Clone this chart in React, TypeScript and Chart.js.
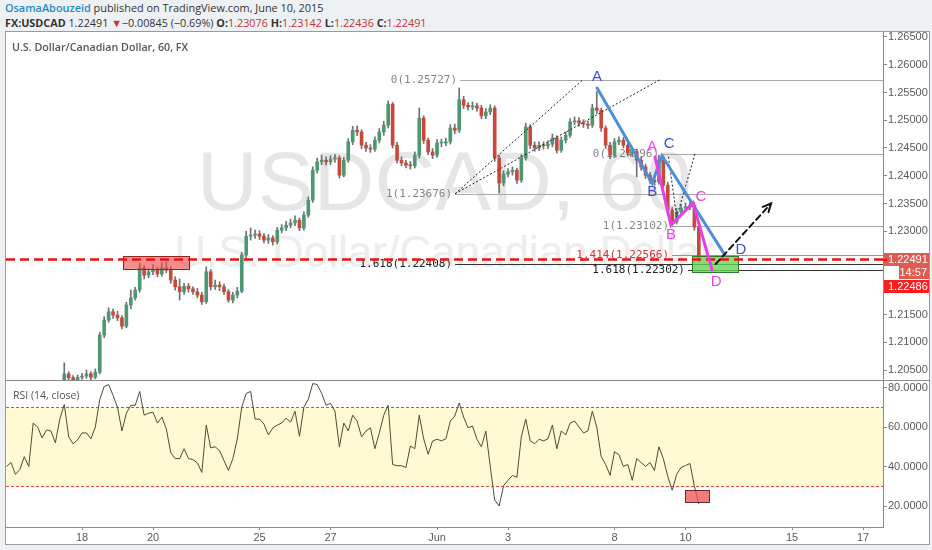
import React, { useEffect, useRef } from "react";
import { Chart, registerables } from "chart.js";

Chart.register(...registerables);

// ---------- time axis: trading days relative to Mon 1 Jun 2015 ----------
const candleStart = -12.125; // first 3-hour candle
const candleStep = 0.125; // 3 hours
const viewStart = -12.141;
const viewEnd = 12.563;
const dayTicks = [-10, -8, -5, -3, 0, 2, 5, 7, 10, 12];
const dayLabels = ["18", "20", "25", "27", "Jun", "3", "8", "10", "15", "17"];

// ---------- USDCAD candles (3h), open = previous close ----------
const firstOpen = 1.198;
const closes = [
  1.1985, 1.199, 1.1972, 1.1968, 1.1985, 1.1978, 1.2, 1.2012, 1.2004, 1.201,
  1.2015, 1.2008, 1.2022, 1.2043, 1.2036, 1.2032, 1.2037, 1.2039, 1.2043, 1.2037,
  1.2046, 1.2113, 1.214, 1.2155, 1.2149, 1.2144, 1.2129, 1.2167, 1.218, 1.2194,
  1.2234, 1.2221, 1.2227, 1.223, 1.2223, 1.2234, 1.223, 1.2212, 1.22, 1.2191,
  1.2201, 1.2196, 1.2191, 1.2185, 1.2173, 1.2227, 1.22, 1.2203, 1.22, 1.2191,
  1.2176, 1.2185, 1.2192, 1.2257, 1.2291, 1.2293, 1.2295, 1.2291, 1.2284, 1.2288,
  1.2281, 1.2302, 1.2306, 1.2311, 1.2315, 1.232, 1.2306, 1.2329, 1.2356, 1.241,
  1.2425, 1.2428, 1.2425, 1.243, 1.2432, 1.2401, 1.2428, 1.2461, 1.2482, 1.2479,
  1.2455, 1.245, 1.2448, 1.2464, 1.2479, 1.2491, 1.2529, 1.2455, 1.2428, 1.2423,
  1.2419, 1.2418, 1.2437, 1.2504, 1.2464, 1.2443, 1.2437, 1.2459, 1.2459, 1.2461,
  1.2486, 1.2482, 1.2537, 1.2527, 1.2524, 1.2526, 1.2522, 1.2508, 1.2515, 1.2522,
  1.2432, 1.2387, 1.2403, 1.2407, 1.241, 1.2392, 1.2432, 1.2488, 1.2455, 1.245,
  1.2455, 1.2454, 1.2457, 1.2468, 1.2446, 1.2464, 1.2473, 1.2497, 1.2499, 1.2495,
  1.2493, 1.2491, 1.2522, 1.2518, 1.2486, 1.2455, 1.2437, 1.2461, 1.2464, 1.2455,
  1.2441, 1.2443, 1.2428, 1.2416, 1.2401, 1.2392, 1.2389, 1.2428, 1.2383, 1.2338,
  1.2317, 1.2335, 1.2342, 1.2344, 1.2347, 1.23076, 1.22491,
];
const highs = [
  1.1992, 1.1996, 1.1994, 1.1978, 1.199, 1.199, 1.2005, 1.2018, 1.2016, 1.2015,
  1.202, 1.2019, 1.2028, 1.2063, 1.2047, 1.204, 1.2041, 1.2044, 1.205, 1.2047,
  1.2052, 1.2118, 1.2146, 1.2162, 1.216, 1.2156, 1.2148, 1.2172, 1.2194, 1.2199,
  1.2243, 1.2238, 1.2233, 1.224, 1.2235, 1.2244, 1.2245, 1.2236, 1.2218, 1.2214,
  1.2206, 1.2206, 1.22, 1.2197, 1.219, 1.2236, 1.2231, 1.2212, 1.2209, 1.2205,
  1.2195, 1.219, 1.2199, 1.2262, 1.23, 1.2306, 1.2302, 1.2301, 1.2296, 1.2294,
  1.2292, 1.2307, 1.2312, 1.2318, 1.2322, 1.2328, 1.2324, 1.2335, 1.2362, 1.2416,
  1.2432, 1.2437, 1.2434, 1.2436, 1.2438, 1.2436, 1.2433, 1.2467, 1.2489, 1.249,
  1.2483, 1.246, 1.2456, 1.247, 1.2485, 1.2498, 1.2535, 1.2532, 1.246, 1.2434,
  1.2428, 1.2426, 1.2443, 1.2522, 1.2508, 1.2468, 1.2449, 1.2465, 1.2466, 1.2468,
  1.2492, 1.2493, 1.2558, 1.2543, 1.2532, 1.2533, 1.2531, 1.2527, 1.2521, 1.2528,
  1.2526, 1.2437, 1.2409, 1.2413, 1.2416, 1.2414, 1.2438, 1.2495, 1.2492, 1.2461,
  1.2461, 1.2461, 1.2463, 1.2475, 1.2472, 1.247, 1.2479, 1.2503, 1.2506, 1.2505,
  1.2501, 1.2499, 1.2529, 1.2552, 1.2522, 1.249, 1.246, 1.2467, 1.247, 1.2469,
  1.246, 1.245, 1.2448, 1.2433, 1.2421, 1.2406, 1.2398, 1.2437, 1.2434, 1.2388,
  1.2343, 1.2341, 1.2348, 1.2351, 1.2358, 1.2352, 1.23142,
];
const lows = [
  1.1974, 1.198, 1.1966, 1.196, 1.1964, 1.1972, 1.1975, 1.1996, 1.1998, 1.2,
  1.2006, 1.2002, 1.2005, 1.2018, 1.203, 1.2026, 1.2028, 1.2033, 1.2035, 1.2032,
  1.2034, 1.2043, 1.2108, 1.2136, 1.2143, 1.2139, 1.2124, 1.2126, 1.216, 1.2176,
  1.219, 1.2214, 1.2216, 1.2222, 1.2218, 1.2219, 1.2225, 1.2206, 1.2194, 1.2176,
  1.2186, 1.219, 1.2186, 1.218, 1.2168, 1.217, 1.2194, 1.2195, 1.2193, 1.2186,
  1.2172, 1.2171, 1.218, 1.2189, 1.2252, 1.2284, 1.2287, 1.2285, 1.2279, 1.2278,
  1.2275, 1.2277, 1.2297, 1.2301, 1.2306, 1.231, 1.2301, 1.2302, 1.2325, 1.2352,
  1.2405, 1.242, 1.2419, 1.242, 1.2424, 1.2396, 1.2398, 1.2424, 1.2456, 1.2472,
  1.2449, 1.2444, 1.2442, 1.2444, 1.2459, 1.2473, 1.2486, 1.245, 1.2423, 1.2418,
  1.2414, 1.2412, 1.2414, 1.2432, 1.2458, 1.2438, 1.2431, 1.2433, 1.2452, 1.2454,
  1.2457, 1.2476, 1.2478, 1.2521, 1.2518, 1.2519, 1.2516, 1.2503, 1.2503, 1.251,
  1.2426, 1.2369, 1.2382, 1.2398, 1.2401, 1.2386, 1.2388, 1.2428, 1.2449, 1.2444,
  1.2445, 1.2448, 1.2449, 1.2452, 1.2441, 1.2442, 1.2459, 1.2469, 1.2492, 1.2489,
  1.2487, 1.2485, 1.2487, 1.2512, 1.248, 1.2449, 1.2431, 1.2433, 1.2456, 1.245,
  1.2436, 1.2435, 1.2398, 1.241, 1.2395, 1.2386, 1.2383, 1.2385, 1.2378, 1.2332,
  1.231, 1.2313, 1.233, 1.2337, 1.2339, 1.2302, 1.22436,
];

// ---------- RSI (14, close), one value per candle ----------
const rsiValues = [
  40, 42, 36, 38.5, 45, 40, 62, 60, 54.5, 58.5,
  58, 52, 64, 71.4, 55, 51.5, 53.5, 57, 57, 54,
  60, 74, 80.5, 81.5, 76, 70, 58, 67, 71, 71,
  78, 66, 67, 67.5, 62, 65, 59, 47, 44, 44,
  49, 44, 43.5, 41.8, 37, 61, 49.4, 50, 48, 43,
  38, 44, 54, 70, 77, 78, 64, 64, 61.5, 56,
  59.5, 61, 62, 64.5, 62.5, 68, 55.3, 70, 74, 82,
  81.5, 77, 71, 72, 68, 50, 62, 58, 66, 63,
  55, 58, 59.6, 49, 57, 66, 71, 41, 40.4, 40.4,
  39.5, 50.4, 49, 66, 54, 46.2, 52.9, 53.8, 53, 54,
  63, 65.5, 72.2, 65, 59.6, 60.5, 53.8, 50, 57.9, 40,
  23, 20, 30.3, 33, 35.5, 34.5, 55, 64, 53, 51.5,
  53.8, 53, 54, 61, 49, 58, 56, 62, 63, 60,
  57, 58, 68, 60, 45, 41, 35.5, 47.5, 46, 40,
  41, 33, 44, 42, 40, 42, 38, 50, 44, 35,
  28, 36, 39.5, 40.5, 41.5, 30, 21,
];

// ---------- scales ----------
const priceMin = 1.2032;
const priceMax = 1.2659;
const priceTicks = [1.205, 1.21, 1.215, 1.22, 1.225, 1.23, 1.235, 1.24, 1.245, 1.25, 1.255, 1.26, 1.265];
const rsiMin = 9.37;
const rsiMax = 83.29;
const rsiTicks = [20, 40, 60, 80];
const rsiUpper = 70;
const rsiLower = 30;

const lastPrice = 1.22491;
const bidPrice = 1.22486;
const barCountdown = "14:57";

// ---------- drawings (time in trading days, price) ----------
const fibLabels = ["0(1.25727)", "1(1.23676)", "0(1.24396)", "1(1.23102)", "1.414(1.22566)", "1.618(1.22408)", "1.618(1.22302)"];
const fibPrices = [1.25727, 1.23676, 1.24396, 1.23102, 1.22566, 1.22408, 1.22302];
const fibStarts = [0.65, 0.51, 6.34, 6.62, 6.62, 0.51, 7.07];
const fibKinds = ["base", "base", "base", "base", "ext1", "ext2", "ext2"];

const dottedPaths = [
  { t: [0.51, 4.11], p: [1.23676, 1.2573] },
  { t: [0.51, 6.28], p: [1.23676, 1.2573] },
  { t: [6.52, 6.75, 7.27], p: [1.2434, 1.2326, 1.244] },
];
const patternLetters = ["A", "B", "C", "D"];
const blueTimes = [4.51, 6.06, 6.34, 8.11];
const bluePrices = [1.2558, 1.2387, 1.2436, 1.2257];
const pinkTimes = [6.14, 6.59, 7.21, 7.75];
const pinkPrices = [1.2434, 1.2311, 1.2351, 1.223];
const arrowTimes = [7.85, 9.41];
const arrowPrices = [1.2241, 1.235];
const supplyZone = { t: [-8.85, -6.99], p: [1.2232, 1.2255] };
const targetZone = { t: [7.18, 8.48], p: [1.2227, 1.2255] };
const rsiZone = { t: [6.99, 7.66], v: [22, 28] };

const AXIS_FONT = "'Liberation Sans', Arial, sans-serif";
const AXIS_W = 47;

function lockY(scale: any) {
  scale.width = AXIS_W;
  scale.paddingTop = 0;
  scale.paddingBottom = 0;
}

const mainDrawings = {
  id: "mainDrawings",
  beforeDatasetsDraw(chart: any) {
    const { ctx, chartArea: a, scales } = chart;
    const x = scales.x;
    const y = scales.y;
    ctx.save();
    ctx.beginPath();
    ctx.rect(a.left, a.top, a.right - a.left, a.bottom - a.top);
    ctx.clip();
    fibPrices.forEach((p, i) => {
      const py = Math.round(y.getPixelForValue(p)) + 0.5;
      const px = x.getPixelForValue(fibStarts[i]);
      const kind = fibKinds[i];
      ctx.strokeStyle = kind === "base" ? "#a8a8a8" : kind === "ext1" ? "#e57373" : "#333333";
      ctx.lineWidth = 1;
      ctx.beginPath();
      ctx.moveTo(px, py);
      ctx.lineTo(a.right, py);
      ctx.stroke();
      ctx.font = "11px 'DejaVu Sans Mono', monospace";
      ctx.fillStyle = kind === "base" ? "#858585" : kind === "ext1" ? "#d93030" : "#222222";
      ctx.textAlign = "right";
      ctx.textBaseline = "middle";
      ctx.fillText(fibLabels[i], px - 3, py);
    });
    ctx.restore();
  },
  afterDatasetsDraw(chart: any) {
    const { ctx, chartArea: a, scales } = chart;
    const x = scales.x;
    const y = scales.y;
    const X = (t: number) => x.getPixelForValue(t);
    const Y = (p: number) => y.getPixelForValue(p);
    ctx.save();
    ctx.beginPath();
    ctx.rect(a.left, a.top, a.right - a.left, a.bottom - a.top);
    ctx.clip();

    // zones
    const zone = (z: any, fill: string, stroke: string) => {
      const x1 = Math.round(X(z.t[0])) + 0.5;
      const x2 = Math.round(X(z.t[1])) + 0.5;
      const y1 = Math.round(Y(z.p[1])) + 0.5;
      const y2 = Math.round(Y(z.p[0])) + 0.5;
      ctx.fillStyle = fill;
      ctx.fillRect(x1, y1, x2 - x1, y2 - y1);
      ctx.strokeStyle = stroke;
      ctx.lineWidth = 1;
      ctx.setLineDash([]);
      ctx.strokeRect(x1, y1, x2 - x1, y2 - y1);
    };
    zone(supplyZone, "rgba(238,72,72,0.62)", "#8e2424");
    zone(targetZone, "rgba(96,214,80,0.78)", "#2f7a2f");

    // current price line
    ctx.strokeStyle = "#ee1111";
    ctx.lineWidth = 2.5;
    ctx.setLineDash([9, 5]);
    const ly = Y(lastPrice);
    ctx.beginPath();
    ctx.moveTo(a.left, ly);
    ctx.lineTo(a.right, ly);
    ctx.stroke();

    // dotted helper lines
    ctx.strokeStyle = "#222";
    ctx.lineWidth = 1;
    ctx.setLineDash([2, 2]);
    dottedPaths.forEach((d) => {
      ctx.beginPath();
      d.t.forEach((t, i) => {
        if (i === 0) ctx.moveTo(X(t), Y(d.p[i]));
        else ctx.lineTo(X(t), Y(d.p[i]));
      });
      ctx.stroke();
    });

    // harmonic legs
    const legs = (ts: number[], ps: number[], color: string) => {
      ctx.strokeStyle = color;
      ctx.lineWidth = 3;
      ctx.setLineDash([]);
      ctx.lineCap = "round";
      ctx.beginPath();
      ts.forEach((t, i) => {
        if (i === 0) ctx.moveTo(X(t), Y(ps[i]));
        else ctx.lineTo(X(t), Y(ps[i]));
      });
      ctx.stroke();
    };
    legs(blueTimes, bluePrices, "#4a8fd8");
    legs(pinkTimes, pinkPrices, "#e83de8");

    // arrow
    ctx.strokeStyle = "#111";
    ctx.lineWidth = 2;
    ctx.setLineDash([6, 4]);
    const ax1 = X(arrowTimes[0]);
    const ay1 = Y(arrowPrices[0]);
    const ax2 = X(arrowTimes[1]);
    const ay2 = Y(arrowPrices[1]);
    ctx.beginPath();
    ctx.moveTo(ax1, ay1);
    ctx.lineTo(ax2, ay2);
    ctx.stroke();
    ctx.setLineDash([]);
    const ang = Math.atan2(ay2 - ay1, ax2 - ax1);
    ctx.beginPath();
    ctx.moveTo(ax2 - 9 * Math.cos(ang - 0.45), ay2 - 9 * Math.sin(ang - 0.45));
    ctx.lineTo(ax2, ay2);
    ctx.lineTo(ax2 - 9 * Math.cos(ang + 0.45), ay2 - 9 * Math.sin(ang + 0.45));
    ctx.stroke();

    // letters
    ctx.font = "15px 'Liberation Sans', Arial, sans-serif";
    ctx.textAlign = "center";
    ctx.textBaseline = "middle";
    const blueOff = [[0, -11], [0, 9], [7, -12], [16, -5]];
    const pinkOff = [[-3, -10], [0, 10], [8, -6], [4, 12]];
    ctx.fillStyle = "#3d4fd9";
    patternLetters.forEach((l, i) => ctx.fillText(l, X(blueTimes[i]) + blueOff[i][0], Y(bluePrices[i]) + blueOff[i][1]));
    ctx.fillStyle = "#f03ef0";
    patternLetters.forEach((l, i) => ctx.fillText(l, X(pinkTimes[i]) + pinkOff[i][0], Y(pinkPrices[i]) + pinkOff[i][1]));
    ctx.restore();
  },
  afterDraw(chart: any) {
    const { ctx, chartArea: a, scales } = chart;
    const y = scales.y;
    const ly = Math.round(y.getPixelForValue(lastPrice));
    const left = a.right + 1;
    const w = chart.width - left - 1;
    ctx.save();
    ctx.font = "11px " + AXIS_FONT;
    ctx.textBaseline = "middle";
    ctx.fillStyle = "#de5b52";
    ctx.fillRect(left, ly - 7, w, 13);
    ctx.fillRect(chart.width - 31, ly + 6, 30, 13);
    ctx.fillStyle = "#ff1c1c";
    ctx.fillRect(left, ly + 20, w, 13);
    ctx.fillStyle = "#ffffff";
    ctx.textAlign = "left";
    ctx.fillText(lastPrice.toFixed(5), left + 4, ly);
    ctx.fillText(bidPrice.toFixed(5), left + 4, ly + 27);
    ctx.textAlign = "right";
    ctx.fillText(barCountdown, chart.width - 3, ly + 13);
    ctx.strokeStyle = "#ee1111";
    ctx.lineWidth = 2;
    ctx.beginPath();
    ctx.moveTo(a.right, ly);
    ctx.lineTo(a.right + 4, ly);
    ctx.stroke();
    ctx.restore();
  },
};

const rsiDrawings = {
  id: "rsiDrawings",
  beforeDatasetsDraw(chart: any) {
    const { ctx, chartArea: a, scales } = chart;
    const y = scales.y;
    const yu = Math.round(y.getPixelForValue(rsiUpper)) + 0.5;
    const yl = Math.round(y.getPixelForValue(rsiLower)) + 0.5;
    ctx.save();
    ctx.fillStyle = "#fffad4";
    ctx.fillRect(a.left, yu, a.right - a.left, yl - yu);
    ctx.strokeStyle = "#e04848";
    ctx.lineWidth = 1;
    ctx.setLineDash([3, 2]);
    [yu, yl].forEach((yy) => {
      ctx.beginPath();
      ctx.moveTo(a.left, yy);
      ctx.lineTo(a.right, yy);
      ctx.stroke();
    });
    ctx.restore();
  },
  afterDatasetsDraw(chart: any) {
    const { ctx, scales } = chart;
    const x = scales.x;
    const y = scales.y;
    const x1 = Math.round(x.getPixelForValue(rsiZone.t[0])) + 0.5;
    const x2 = Math.round(x.getPixelForValue(rsiZone.t[1])) + 0.5;
    const y1 = Math.round(y.getPixelForValue(rsiZone.v[1])) + 0.5;
    const y2 = Math.round(y.getPixelForValue(rsiZone.v[0])) + 0.5;
    ctx.save();
    ctx.fillStyle = "rgba(238,80,80,0.75)";
    ctx.fillRect(x1, y1, x2 - x1, y2 - y1);
    ctx.strokeStyle = "#6e2a2a";
    ctx.lineWidth = 1;
    ctx.strokeRect(x1, y1, x2 - x1, y2 - y1);
    ctx.restore();
  },
};

export default function App() {
  const mainRef = useRef<HTMLCanvasElement>(null);
  const rsiRef = useRef<HTMLCanvasElement>(null);

  useEffect(() => {
    document.body.style.margin = "0";
    const times = closes.map((_, i) => candleStart + i * candleStep);
    const opens = closes.map((_, i) => (i === 0 ? firstOpen : closes[i - 1]));
    const up = closes.map((c, i) => c >= opens[i]);

    const main = new Chart(mainRef.current as HTMLCanvasElement, {
      type: "bar",
      data: {
        datasets: [
          {
            data: closes.map((_, i) => ({ x: times[i], y: [lows[i], highs[i]] })) as any,
            backgroundColor: "#707074",
            barThickness: 1,
            grouped: false,
            order: 2,
          } as any,
          {
            data: closes.map((c, i) => ({ x: times[i], y: [opens[i], c] })) as any,
            backgroundColor: up.map((u) => (u ? "#4f9773" : "#c8493b")),
            borderColor: up.map((u) => (u ? "#2c5e45" : "#6e2118")),
            borderWidth: 0,
            barThickness: 3,
            minBarLength: 1,
            grouped: false,
            order: 1,
          } as any,
        ],
      },
      options: {
        animation: false,
        responsive: false,
        maintainAspectRatio: false,
        layout: { padding: 0 },
        plugins: { legend: { display: false }, tooltip: { enabled: false } },
        scales: {
          x: { type: "linear", min: viewStart, max: viewEnd, display: false, offset: false },
          y: {
            type: "linear",
            position: "right",
            min: priceMin,
            max: priceMax,
            afterBuildTicks: (s: any) => {
              s.ticks = priceTicks.map((v) => ({ value: v }));
            },
            afterFit: lockY,
            grid: { drawOnChartArea: false, drawTicks: true, tickLength: 4, color: "#8c8c8c" },
            border: { display: true, color: "#8c8c8c" },
            ticks: {
              padding: 1,
              color: "#5a5a5a",
              font: { family: AXIS_FONT, size: 11 },
              callback: (v: any) => Number(v).toFixed(5),
            },
          },
        },
      } as any,
      plugins: [mainDrawings],
    });

    const rsi = new Chart(rsiRef.current as HTMLCanvasElement, {
      type: "line",
      data: {
        datasets: [
          {
            data: rsiValues.map((v, i) => ({ x: times[i], y: v })),
            borderColor: "#4d4d36",
            borderWidth: 1,
            pointRadius: 0,
            tension: 0,
          },
        ],
      },
      options: {
        animation: false,
        responsive: false,
        maintainAspectRatio: false,
        layout: { padding: 0 },
        plugins: { legend: { display: false }, tooltip: { enabled: false } },
        scales: {
          x: {
            type: "linear",
            min: viewStart,
            max: viewEnd,
            offset: false,
            afterBuildTicks: (s: any) => {
              s.ticks = dayTicks.map((v) => ({ value: v }));
            },
            afterFit: (s: any) => {
              s.height = 17;
              s.paddingLeft = 0;
              s.paddingRight = 0;
            },
            grid: { drawOnChartArea: false, drawTicks: true, tickLength: 3, color: "#8c8c8c" },
            border: { display: true, color: "#8c8c8c" },
            ticks: {
              padding: 1,
              autoSkip: false,
              maxRotation: 0,
              color: "#5a5a5a",
              font: { family: AXIS_FONT, size: 11 },
              callback: (_v: any, i: number) => dayLabels[i],
            },
          },
          y: {
            type: "linear",
            position: "right",
            min: rsiMin,
            max: rsiMax,
            afterBuildTicks: (s: any) => {
              s.ticks = rsiTicks.map((v) => ({ value: v }));
            },
            afterFit: lockY,
            grid: { drawOnChartArea: false, drawTicks: true, tickLength: 4, color: "#8c8c8c" },
            border: { display: true, color: "#8c8c8c" },
            ticks: {
              padding: 1,
              color: "#5a5a5a",
              font: { family: AXIS_FONT, size: 11 },
              callback: (v: any) => Number(v).toFixed(4),
            },
          },
        },
      } as any,
      plugins: [rsiDrawings],
    });

    return () => {
      main.destroy();
      rsi.destroy();
    };
  }, []);

  const red = "#c8322c";
  return (
    <div
      style={{
        position: "relative",
        width: 932,
        height: 550,
        background: "#eef1f4",
        overflow: "hidden",
        fontFamily: "'Open Sans', sans-serif",
      }}
    >
      <div style={{ position: "absolute", left: 5, top: 0, fontSize: 10.9, lineHeight: "15px", color: "#333", whiteSpace: "nowrap" }}>
        <span style={{ color: "#1f8ac6", fontWeight: 600 }}>OsamaAbouzeid</span> published on TradingView.com, June 10, 2015
      </div>
      <div style={{ position: "absolute", left: 5, top: 15, fontSize: 10.8, lineHeight: "15px", color: "#333", whiteSpace: "nowrap" }}>
        <b>FX:USDCAD</b> 1.22491 <span style={{ color: red }}>▼</span>−0.00845 (−0.69%) <b>O:</b>
        <span style={{ color: red }}>1.23076</span> <b>H:</b>
        <span style={{ color: red }}>1.23142</span> <b>L:</b>
        <span style={{ color: red }}>1.22436</span> <b>C:</b>
        <span style={{ color: red }}>1.22491</span>
      </div>

      <div
        style={{
          position: "absolute",
          left: 5,
          top: 31,
          width: 925,
          height: 514,
          boxSizing: "border-box",
          background: "#ffffff",
          border: "1px solid #9a9a9a",
        }}
      />
      <div
        style={{
          position: "absolute",
          left: 6,
          top: 139,
          width: 877,
          textAlign: "center",
          fontFamily: "'Liberation Sans', Arial, sans-serif",
          fontSize: 84,
          lineHeight: "84px",
          color: "#e6e6e6",
          whiteSpace: "nowrap",
        }}
      >
        USDCAD, 60
      </div>
      <div
        style={{
          position: "absolute",
          left: 6,
          top: 230,
          width: 877,
          textAlign: "center",
          fontFamily: "'Liberation Sans', Arial, sans-serif",
          fontSize: 44,
          lineHeight: "44px",
          color: "#ededed",
          whiteSpace: "nowrap",
        }}
      >
        U.S. Dollar/Canadian Dollar
      </div>

      <canvas ref={mainRef} width={924} height={348} style={{ position: "absolute", left: 6, top: 32, width: 924, height: 348 }} />
      <canvas ref={rsiRef} width={924} height={163} style={{ position: "absolute", left: 6, top: 381, width: 924, height: 163 }} />

      <div style={{ position: "absolute", left: 5, top: 380, width: 925, height: 1, background: "#8c8c8c" }} />
      <div
        style={{
          position: "absolute",
          left: 12,
          top: 40,
          fontSize: 10.7,
          fontWeight: 600,
          color: "#555",
          whiteSpace: "nowrap",
          lineHeight: "15px",
        }}
      >
        U.S. Dollar/Canadian Dollar, 60, FX
      </div>
      <div
        style={{
          position: "absolute",
          left: 13,
          top: 388,
          fontSize: 10.5,
          color: "#555",
          whiteSpace: "nowrap",
          lineHeight: "14px",
        }}
      >
        RSI (14, close)
      </div>
    </div>
  );
}
